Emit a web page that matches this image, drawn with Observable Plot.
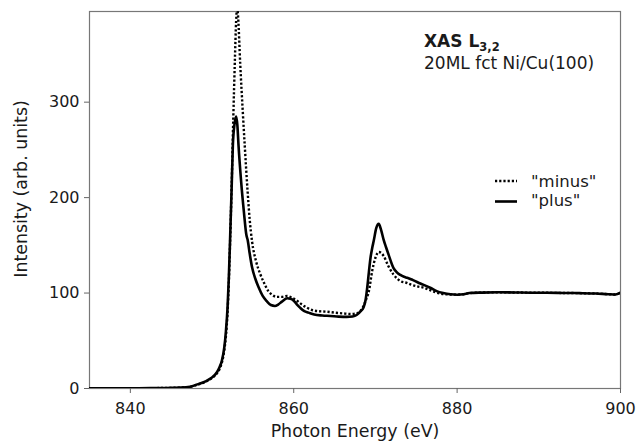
<!DOCTYPE html>
<html><head><meta charset="utf-8">
<script src="https://cdn.jsdelivr.net/npm/d3@7"></script>
<script src="https://cdn.jsdelivr.net/npm/@observablehq/plot@0.6"></script>
<style>html,body{margin:0;padding:0;background:#fff} svg{display:block}</style>
</head><body><div id="chart"></div>
<script>
const plusEnergy = [835,837,839,841,843,844.5,846,847.3,848.2,849.2,849.9,850.6,850.9,851.2,851.5,851.7,851.9,852.05,852.2,852.4,852.55,852.75,852.95,853.1,853.24,853.57,853.9,854.2,854.35,854.6,854.9,855.3,855.7,856.2,856.7,857.2,857.7,858.1,858.55,859.2,859.6,860,860.4,860.8,861.3,861.8,862.5,863.5,864.5,865.5,866.5,867.2,867.7,868.2,868.55,868.8,869,869.2,869.4,869.6,869.8,870.1,870.4,870.7,871,871.3,871.6,872.2,872.6,873.05,873.5,873.9,874.6,875.5,876.7,877.5,878.3,879.2,880,880.8,881.5,883,885,887,889,891,893,895,897,898.5,899.4,900];
const plusIntensity = [0.3,0.2,0.2,0.3,0.4,0.6,0.9,1.8,4.3,7.5,11,17,22,29,43,60,85,115,154,210,255,277,285,276,255,216,185,161,156,142,127,115,106,97,91.5,87.5,86.5,88,91,94.5,94,92,88,84.5,81,79.5,77.5,76.5,76,75.3,75,75.5,77,81,85,93,106,122,137,147,155,168,172.5,166,156,148,140.5,126.5,122,119,117,116,113.5,110,105.6,102,100,98.7,98.3,98.8,100,100.5,100.8,100.6,100.4,100.3,100.1,99.9,99.5,98.8,98.5,100.5];
const minusEnergy = [835,837,839,841,843,844.5,846,847.3,848.2,849.2,849.9,850.6,850.9,851.2,851.5,851.7,851.9,852.05,852.2,852.4,852.6,852.8,852.95,853.08,853.2,853.45,853.75,854,854.35,854.6,854.9,855.4,855.9,856.4,856.9,857.4,857.9,858.5,859.2,859.8,860.4,861,861.6,862.3,863,864,865,866,867,867.6,868,868.4,868.8,869.2,869.6,870,870.4,870.7,871,871.6,872.2,873.05,873.9,874.3,875.1,875.9,876.7,877.5,878.3,879.2,880,880.8,881.5,883,885,887,889,891,893,895,897,898.5,899.4,900];
const minusIntensity = [0.3,0.2,0.2,0.3,0.4,0.6,0.9,1.7,4,7,10.5,16,20,27,40,55,80,110,150,212,283,345,385,400,388,340,292,255,207,178,154,133,120,110,102,98,96,96,97,95,92,88,84.7,82,81,80.5,79.5,78.7,78,78.5,80,84,92,102,123,137,143,142,139,128,119.6,112.6,110.5,109,107,105.6,103,100.4,99,98.5,98.3,98.8,100,100.5,100.8,100.6,100.4,100.3,100.1,99.9,99.5,98.8,98.5,100.5];
const xTicks = [840, 860, 880, 900];
const yTicks = [0, 100, 200, 300];
const seriesNames = ['"minus"', '"plus"'];
const xLabel = "Photon Energy (eV)";
const yLabel = "Intensity (arb. units)";
const titleMain = "XAS L";
const titleSub = "3,2";
const subtitle = "20ML fct Ni/Cu(100)";

const plus = plusEnergy.map((e, i) => ({energy: e, intensity: plusIntensity[i]}));
const minus = minusEnergy.map((e, i) => ({energy: e, intensity: minusIntensity[i]}));
const FONT = "'DejaVu Sans', sans-serif";
const DASH = "2.2,2";

const chart = Plot.plot({
  width: 637, height: 441,
  marginLeft: 89, marginRight: 17, marginTop: 11, marginBottom: 53,
  style: {fontFamily: FONT, fontSize: "16px", color: "#1a1a1a", background: "#fff"},
  x: {domain: [835, 900]},
  y: {domain: [0, 395]},
  marks: [
    Plot.frame({stroke: "#777", strokeWidth: 1.2}),
    Plot.axisX({ticks: xTicks, tickSize: 5, tickPadding: 9, label: null, stroke: "#666", tickFormat: d => String(d)}),
    Plot.axisY({ticks: yTicks, tickSize: 5, tickPadding: 5, label: null, stroke: "#666", tickFormat: d => String(d)}),
    Plot.line(minus, {x: "energy", y: "intensity", stroke: "#000", strokeWidth: 2.4, strokeDasharray: DASH, strokeLinecap: "butt", curve: "monotone-x", clip: true}),
    Plot.line(plus, {x: "energy", y: "intensity", stroke: "#000", strokeWidth: 2.6, curve: "monotone-x", clip: true})
  ]
});
document.getElementById("chart").appendChild(chart);

const svg = d3.select(chart);
const g = svg.append("g").attr("font-family", FONT).attr("fill", "#1a1a1a").attr("text-anchor", "start");
// axis labels
g.append("text").attr("x", 355).attr("y", 437).attr("text-anchor", "middle")
  .attr("font-size", 17.4).text(xLabel);
g.append("text").attr("transform", "translate(27,189) rotate(-90)").attr("text-anchor", "middle")
  .attr("font-size", 17.4).text(yLabel);
// annotation
const t1 = g.append("text").attr("x", 424).attr("y", 47).attr("font-size", 17).attr("font-weight", "bold");
t1.append("tspan").text(titleMain);
t1.append("tspan").attr("font-size", 11.5).attr("dy", 4).text(titleSub);
g.append("text").attr("x", 424).attr("y", 68.5).attr("font-size", 17).text(subtitle);
// legend
const lg = svg.append("g").attr("text-anchor", "start");
lg.append("line").attr("x1", 495).attr("x2", 517).attr("y1", 181).attr("y2", 181)
  .attr("stroke", "#000").attr("stroke-width", 2.4).attr("stroke-dasharray", DASH);
lg.append("line").attr("x1", 495).attr("x2", 517).attr("y1", 201.5).attr("y2", 201.5)
  .attr("stroke", "#000").attr("stroke-width", 2.6);
lg.append("text").attr("x", 531).attr("y", 186.5).attr("font-family", FONT).attr("font-size", 16.5).attr("fill", "#1a1a1a").text(seriesNames[0]);
lg.append("text").attr("x", 531).attr("y", 206).attr("font-family", FONT).attr("font-size", 16.5).attr("fill", "#1a1a1a").text(seriesNames[1]);
</script>
</body></html>
